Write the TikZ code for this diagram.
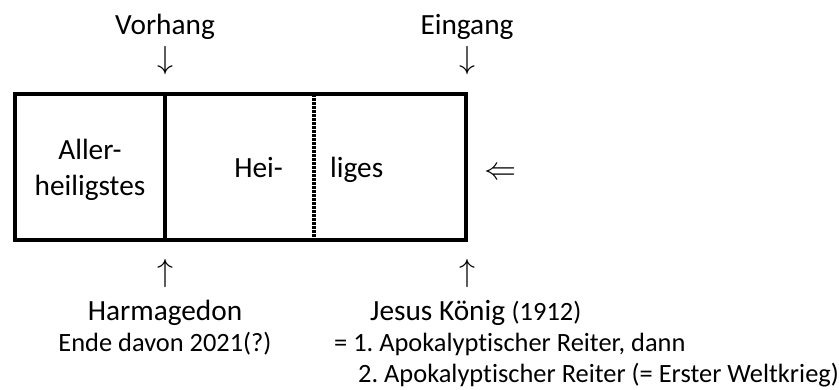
\documentclass[tikz,border=0pt]{standalone}
\usepackage{graphicx}
\usepackage{fontspec}
\setmainfont{Carlito}[Ligatures={NoCommon}]
\frenchspacing

\tikzset{
    gross/.style = {font=\fontsize{29.3}{35.7}\selectfont, inner sep=0pt},
    klein/.style = {font=\fontsize{26.4}{32}\selectfont, inner sep=0pt},
    pfeil/.style = {inner sep=0pt},
    wand/.style = {line width=4pt},
    vorhanglinie/.style = {line width=4pt, dash pattern=on 2.5pt off 1.5pt}
}
\newcommand{\gpfeil}[1]{\scalebox{3.2}{$#1$}}

\begin{document}
\begin{tikzpicture}[x=1pt, y=-1pt]
    \useasboundingbox (0,0) rectangle (839,389);

    \draw[wand] (15,94) rectangle (466,240);
    \draw[wand] (165,94) -- (165,240);
    \draw[vorhanglinie] (314,94) -- (314,240);

    \node[gross, anchor=base] (vorhang) at (165,34) {Vorhang};
    \node[pfeil] (vorhangpfeil) at (165,60) {\gpfeil{\downarrow}};
    \node[gross, anchor=base] (eingang) at (467,34) {Eingang};
    \node[pfeil] (eingangpfeil) at (467,60) {\gpfeil{\downarrow}};

    \node[gross, align=center] (allerheiligstes) at (90,170) {Aller-\\heiligstes};
    \node[gross, anchor=base east] (hei) at (283,177) {Hei-};
    \node[gross, anchor=base west] (liges) at (330,177) {liges};
    \node[pfeil] (zugang) at (500,174) {\gpfeil{\Leftarrow}};

    \node[pfeil] (harmapfeil) at (165,273) {\gpfeil{\uparrow}};
    \node[pfeil] (koenigpfeil) at (467,273) {\gpfeil{\uparrow}};

    \node[gross, anchor=base] (harmagedon) at (165,320) {Harmagedon};
    \node[klein, anchor=base] (ende) at (165,351) {Ende davon 2021(?)};

    \node[gross, anchor=base west] (koenig) at (370,320)
        {Jesus König {\fontsize{26.4}{32}\selectfont (1912)}};
    \node[klein, anchor=base west] (reiter1) at (334,351) {= 1. Apokalyptischer Reiter, dann};
    \node[klein, anchor=base west] (reiter2) at (358,382) {2. Apokalyptischer Reiter (= Erster Weltkrieg)};
\end{tikzpicture}
\end{document}
